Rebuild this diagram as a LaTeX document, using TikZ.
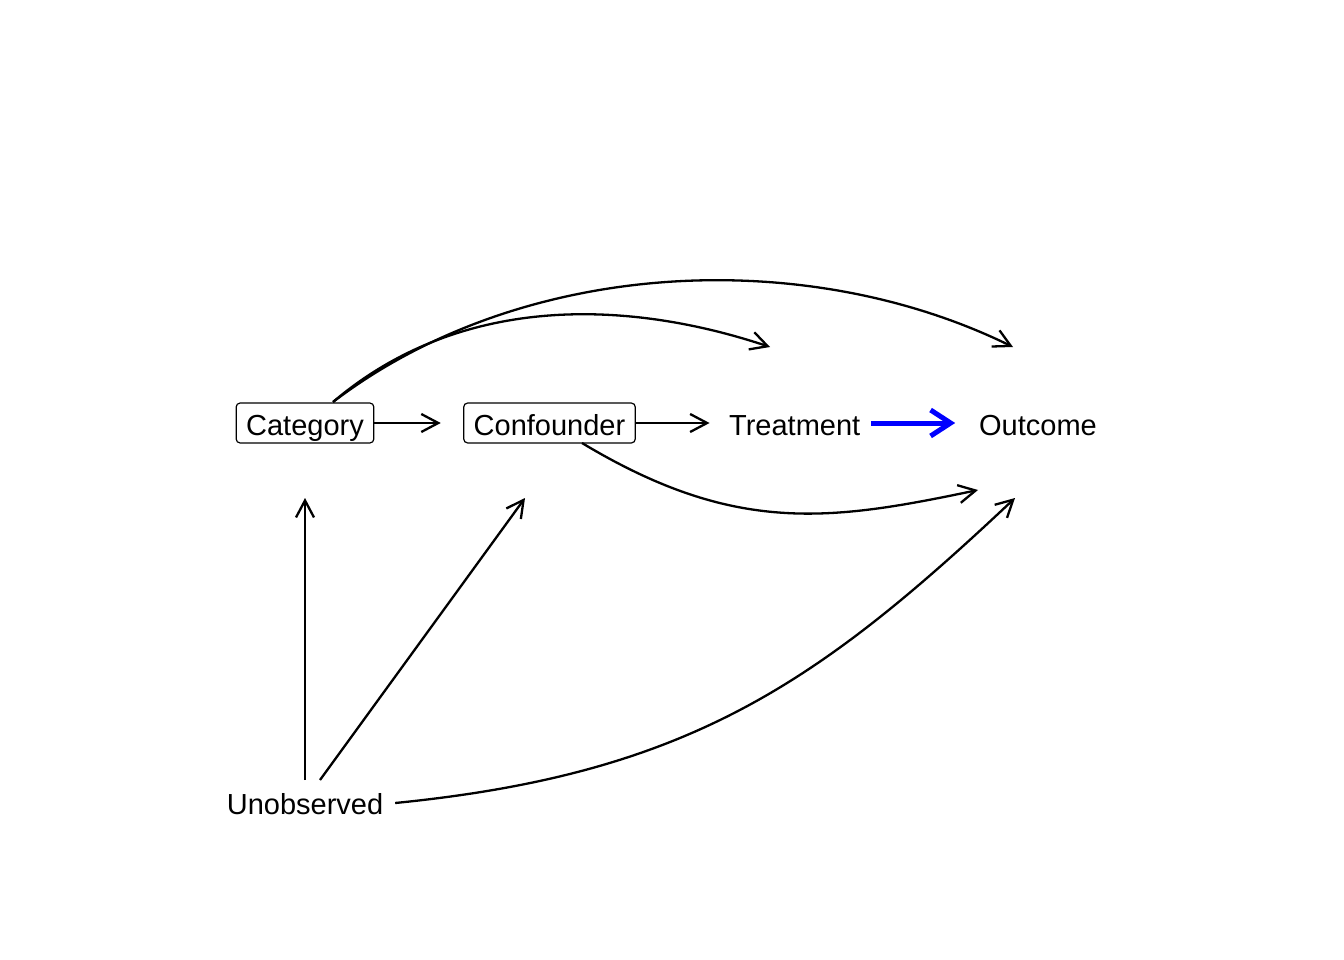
\documentclass[tikz,border=0pt]{standalone}
\usepackage{fontspec}
\setmainfont{Liberation Sans}
\usetikzlibrary{arrows.meta,calc}
\definecolor{effectblue}{RGB}{0,0,255}
\begin{document}
\begin{tikzpicture}[x=1pt,y=-1pt,
  var/.style={font=\fontsize{29pt}{34pt}\selectfont, inner xsep=10pt, inner ysep=0pt,
              text height=32.5pt, text depth=7.5pt, outer sep=0pt},
  boxed/.style={var, draw, rounded corners=4pt, line width=1.2pt},
  edge/.style={line width=2.3pt, -{Straight Barb[length=17pt,width=18pt]}},
  effect/.style={line width=5pt, draw=effectblue, -{Straight Barb[length=20pt,width=26pt]}}]
\useasboundingbox (0,0) rectangle (1344,960);

% variables
\node[boxed] (cat)   at (305,423)   {Category};
\node[boxed] (conf)  at (549.5,423) {Confounder};
\node[var]   (treat) at (794.7,423) {Treatment};
\node[var]   (out)   at (1038,423)  {Outcome};
\node[var]   (unob)  at (305,802)   {Unobserved};

% straight edges along the main row
\draw[edge, shorten >=23pt] (cat) -- (conf);
\draw[edge, shorten >=9.6pt] (conf) -- (treat);
\draw[effect, shorten <=1pt, shorten >=14pt] (treat) -- (out);

% curved edges above the row
\draw[edge] ($(cat.north)+(28,-1)$) .. controls (460,294) and (626,299) .. ($(treat.north)+(-24.7,-56)$);
\draw[edge] ($(cat.north)+(28,-1)$) .. controls (522,258) and (805,245) .. ($(out.north)+(-25,-56)$);

% curved edge below the row
\draw[edge] ($(conf.south)+(32.5,0)$) .. controls (735,535) and (830,521) .. ($(out.south)+(-60,47)$);

% edges from the unobserved variable
\draw[edge, shorten <=2pt, shorten >=55pt] (unob) -- (cat);
\draw[edge] ($(unob.north)+(15,-2)$) -- ($(conf.south)+(-24.5,55)$);
\draw[edge] ($(unob.east)+(2,1)$) .. controls (687,774) and (816.5,685) .. ($(out.south)+(-23,55)$);
\end{tikzpicture}
\end{document}
